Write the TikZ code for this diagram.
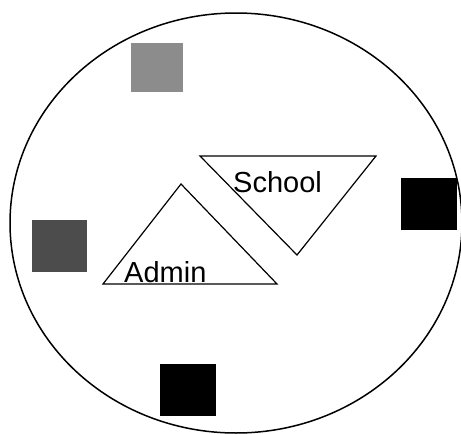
\documentclass[tikz,border=0pt]{standalone}
\usepackage{fontspec}
\setmainfont{Liberation Sans}
\usepackage{tikz}
\usetikzlibrary{positioning,calc}
\tikzset{
  block/.style={
    draw=none,
    inner sep=0pt,
    minimum width=55pt,
    minimum height=52pt
  },
  tripath/.style={
    draw=black,
    line width=1.2pt,
    line join=miter
  },
  label/.style={
    font=\fontsize{29}{32}\selectfont,
    inner sep=0pt
  }
}
\begin{document}
\begin{tikzpicture}[x=1pt,y=-1pt]
  \clip (0,0) rectangle (461,434);
  \useasboundingbox (0,0) rectangle (461,434);
  \fill[white] (0,0) rectangle (461,434);

  % outer boundary
  \draw[line width=1.5pt] (236,223) ellipse [x radius=226, y radius=210];

  % squares
  \node[block,fill=black!45,minimum width=52pt,minimum height=49pt] (gray1) at (157,67.5) {};
  \node[block,fill=black!70] (gray2) at (59.5,246) {};
  \node[block,fill=black,minimum width=56pt] (dark1) at (429,204) {};
  \node[block,fill=black,minimum width=56pt] (dark2) at (188,390) {};

  % triangles
  \coordinate (adminTop) at (181,184);
  \coordinate (adminL) at (103,284);
  \coordinate (adminR) at (277,284);
  \draw[tripath] (adminTop) -- (adminR) -- (adminL) -- cycle;

  \coordinate (schoolL) at (200,156);
  \coordinate (schoolR) at (376,156);
  \coordinate (schoolBot) at (297,255);
  \draw[tripath] (schoolL) -- (schoolR) -- (schoolBot) -- cycle;

  \node[label,anchor=base west] (school) at (233,192) {School};
  \node[label,anchor=base west] (admin) at (124,282) {Admin};
\end{tikzpicture}
\end{document}
